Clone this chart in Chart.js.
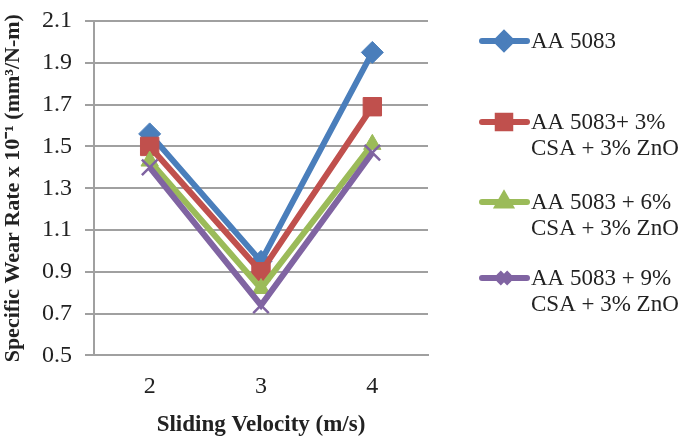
<!DOCTYPE html>
<html>
<head>
<meta charset="utf-8">
<script src="https://cdn.jsdelivr.net/npm/chart.js@4"></script>
<style>
  html, body { margin: 0; padding: 0; background: #fff; }
  #wrap { width: 685px; height: 442px; position: relative; }
</style>
</head>
<body>
<div id="wrap"><canvas id="myChart" width="685" height="442"></canvas></div>
<script>
// 데이터
var velocities = ['2', '3', '4'];
var aa5083 = [1.56, 0.95, 1.95];
var csa3 = [1.50, 0.90, 1.69];
var csa6 = [1.43, 0.82, 1.51];
var csa9 = [1.40, 0.74, 1.47];
var seriesNames = [
  ['AA 5083'],
  ['AA 5083+ 3%', 'CSA + 3% ZnO'],
  ['AA 5083 + 6%', 'CSA + 3% ZnO'],
  ['AA 5083 + 9%', 'CSA + 3% ZnO']
];
var yTicks = [0.5, 0.7, 0.9, 1.1, 1.3, 1.5, 1.7, 1.9, 2.1];

Chart.defaults.font.family = '"Liberation Serif", "Times New Roman", serif';
Chart.defaults.color = '#222';

// 오른쪽 범례 (여러 줄 지원)
var sideLegend = {
  id: 'sideLegend',
  afterDraw: function(chart) {
    var ctx = chart.ctx;
    var rows = [41, 122, 202, 278];
    ctx.save();
    chart.data.datasets.forEach(function(ds, i) {
      var y = rows[i];
      ctx.strokeStyle = ds.borderColor;
      ctx.lineWidth = 6;
      ctx.lineCap = 'round';
      ctx.beginPath();
      ctx.moveTo(482, y);
      ctx.lineTo(527, y);
      ctx.stroke();
      ctx.fillStyle = ds.borderColor;
      ctx.strokeStyle = ds.borderColor;
      ctx.lineCap = 'butt';
      Chart.helpers.drawPoint(ctx, {
        pointStyle: ds.pointStyle,
        radius: ds.pointRadius * 0.68,
        borderWidth: ds.pointBorderWidth
      }, 504, y);
      ctx.fillStyle = '#222';
      ctx.font = '23px "Liberation Serif", serif';
      ctx.textBaseline = 'middle';
      ctx.textAlign = 'left';
      seriesNames[i].forEach(function(line, j) {
        ctx.fillText(line, 531, y + 1 + j * 26);
      });
    });
    ctx.restore();
  }
};

// 나중 시리즈가 위에 그려지도록 order 지정
function makeSet(label, data, color, style, radius, order) {
  return {
    label: label,
    data: data,
    borderColor: color,
    backgroundColor: color,
    borderWidth: 6,
    pointStyle: style,
    pointRadius: radius,
    pointBorderWidth: style === 'crossRot' ? 2.5 : 1,
    pointBorderColor: color,
    pointBackgroundColor: color,
    tension: 0,
    order: order
  };
}

var chartArea = document.getElementById('myChart');
var myChart = new Chart(chartArea, {
  type: 'line',
  data: {
    labels: velocities,
    datasets: [
      makeSet(seriesNames[0].join(' '), aa5083, '#4A7EBB', 'rectRot', 11, 4),
      makeSet(seriesNames[1].join(' '), csa3, '#C0504D', 'rect', 13, 3),
      makeSet(seriesNames[2].join(' '), csa6, '#9BBB59', 'triangle', 10, 2),
      makeSet(seriesNames[3].join(' '), csa9, '#8064A2', 'crossRot', 11, 1)
    ]
  },
  options: {
    responsive: false,
    animation: false,
    layout: {
      padding: { top: 3, right: 257, bottom: 1, left: 0 }
    },
    plugins: {
      legend: { display: false },
      tooltip: { enabled: false }
    },
    scales: {
      x: {
        offset: true,
        grid: { display: false, drawTicks: false },
        border: { color: '#A0A0A0', width: 2 },
        ticks: { font: { size: 24 }, color: '#222', padding: 17 },
        title: {
          display: true,
          text: 'Sliding Velocity (m/s)',
          font: { size: 23, weight: 'bold', lineHeight: 0.6 },
          color: '#222',
          padding: { top: 0, bottom: 9 }
        }
      },
      y: {
        min: 0.5,
        max: 2.1,
        afterBuildTicks: function(axis) {
          axis.ticks = yTicks.map(function(v) { return { value: v }; });
        },
        afterFit: function(axis) {
          axis.width = 94;
        },
        grid: { color: '#A0A0A0', lineWidth: 2, tickLength: 9 },
        border: { color: '#A0A0A0', width: 2 },
        ticks: {
          font: { size: 24, lineHeight: 0.67 },
          color: '#222',
          padding: 13,
          callback: function(v) { return v.toFixed(1); }
        },
        title: {
          display: true,
          text: 'Specific Wear Rate x 10\u207B\u00B9 (mm\u00B3/N-m)',
          font: { size: 22, weight: 'bold' },
          color: '#222',
          padding: { top: 0, bottom: 0 }
        }
      }
    }
  },
  plugins: [sideLegend]
});
</script>
</body>
</html>
